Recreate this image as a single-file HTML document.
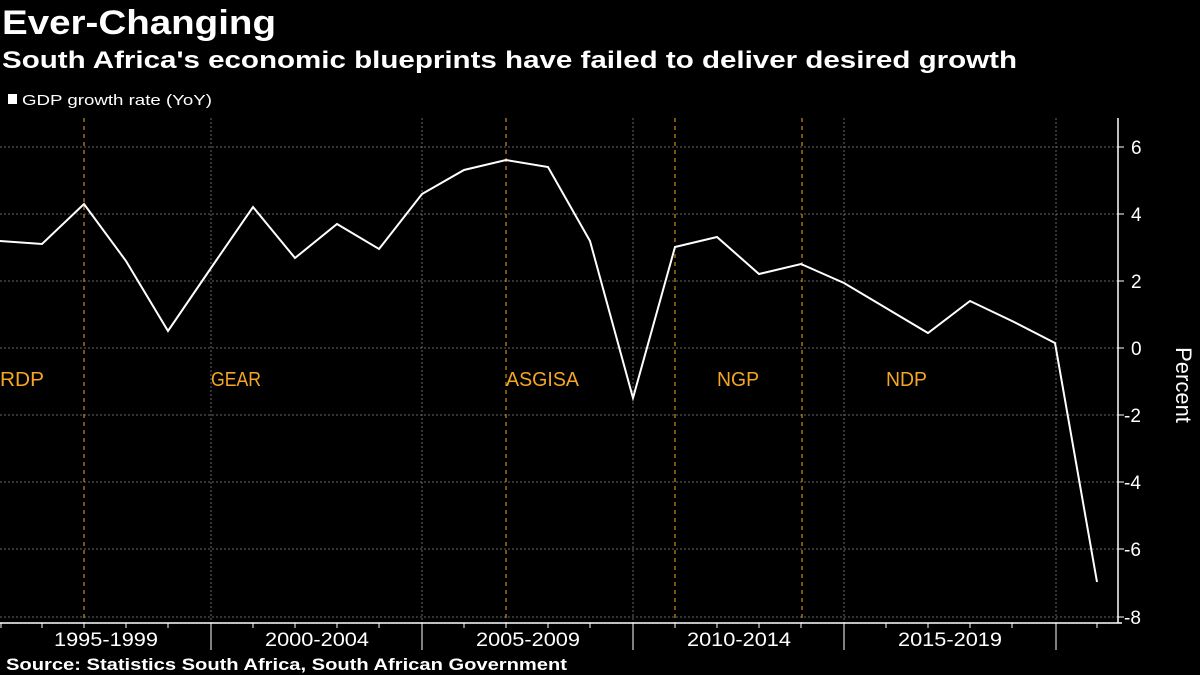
<!DOCTYPE html>
<html><head><meta charset="utf-8"><style>
html,body{margin:0;padding:0;background:#000;}
svg{display:block;font-family:"Liberation Sans",sans-serif;}
</style></head><body>
<svg width="1200" height="675" viewBox="0 0 1200 675">
<rect width="1200" height="675" fill="#000"/>
<text x="2" y="34" fill="#fff" font-size="34" font-weight="bold" textLength="274" lengthAdjust="spacingAndGlyphs">Ever-Changing</text>
<text x="2" y="68" fill="#fff" font-size="24" font-weight="bold" textLength="1015" lengthAdjust="spacingAndGlyphs">South Africa's economic blueprints have failed to deliver desired growth</text>
<rect x="8" y="94" width="9" height="10" fill="#fff"/>
<text x="22" y="105" fill="#fff" font-size="15" textLength="190" lengthAdjust="spacingAndGlyphs">GDP growth rate (YoY)</text>
<g stroke="#666" stroke-dasharray="2,2" stroke-width="1">
<line x1="0" y1="147" x2="1118" y2="147"/><line x1="0" y1="214" x2="1118" y2="214"/>
<line x1="0" y1="281" x2="1118" y2="281"/><line x1="0" y1="348" x2="1118" y2="348"/>
<line x1="0" y1="415" x2="1118" y2="415"/><line x1="0" y1="482" x2="1118" y2="482"/>
<line x1="0" y1="549" x2="1118" y2="549"/><line x1="0" y1="617" x2="1118" y2="617"/>
<line x1="211" y1="118" x2="211" y2="623"/><line x1="422" y1="118" x2="422" y2="623"/>
<line x1="633" y1="118" x2="633" y2="623"/><line x1="844" y1="118" x2="844" y2="623"/>
<line x1="1056" y1="118" x2="1056" y2="623"/>
</g>
<g stroke="#f5a623" stroke-dasharray="4,4" stroke-width="1">
<line x1="84" y1="118" x2="84" y2="623"/><line x1="506" y1="118" x2="506" y2="623"/>
<line x1="675" y1="118" x2="675" y2="623"/><line x1="802" y1="118" x2="802" y2="623"/>
</g>
<g fill="#f5a623" font-size="20">
<text x="0" y="386" textLength="44" lengthAdjust="spacingAndGlyphs">RDP</text>
<text x="211" y="386" textLength="50" lengthAdjust="spacingAndGlyphs">GEAR</text>
<text x="506" y="386" textLength="73" lengthAdjust="spacingAndGlyphs">ASGISA</text>
<text x="717" y="386" textLength="42" lengthAdjust="spacingAndGlyphs">NGP</text>
<text x="886" y="386" textLength="41" lengthAdjust="spacingAndGlyphs">NDP</text>
</g>
<line x1="0" y1="623" x2="1122" y2="623" stroke="#fff" stroke-width="1.5"/>
<line x1="1118" y1="118" x2="1118" y2="623" stroke="#fff" stroke-width="1.5"/>
<g stroke="#fff" stroke-width="1">
<line x1="1118" y1="147" x2="1124" y2="147"/><line x1="1118" y1="214" x2="1124" y2="214"/>
<line x1="1118" y1="281" x2="1124" y2="281"/><line x1="1118" y1="348" x2="1124" y2="348"/>
<line x1="1118" y1="415" x2="1124" y2="415"/><line x1="1118" y1="482" x2="1124" y2="482"/>
<line x1="1118" y1="549" x2="1124" y2="549"/><line x1="1118" y1="617" x2="1124" y2="617"/>
<line x1="211" y1="623" x2="211" y2="650"/><line x1="422" y1="623" x2="422" y2="650"/>
<line x1="633" y1="623" x2="633" y2="650"/><line x1="844" y1="623" x2="844" y2="650"/>
<line x1="1056" y1="623" x2="1056" y2="650"/>
<line x1="1" y1="623" x2="1" y2="628"/><line x1="42" y1="623" x2="42" y2="628"/><line x1="84" y1="623" x2="84" y2="628"/><line x1="126" y1="623" x2="126" y2="628"/><line x1="168" y1="623" x2="168" y2="628"/>
<line x1="253" y1="623" x2="253" y2="628"/><line x1="295" y1="623" x2="295" y2="628"/><line x1="337" y1="623" x2="337" y2="628"/><line x1="379" y1="623" x2="379" y2="628"/>
<line x1="464" y1="623" x2="464" y2="628"/><line x1="506" y1="623" x2="506" y2="628"/><line x1="548" y1="623" x2="548" y2="628"/><line x1="590" y1="623" x2="590" y2="628"/>
<line x1="675" y1="623" x2="675" y2="628"/><line x1="717" y1="623" x2="717" y2="628"/><line x1="759" y1="623" x2="759" y2="628"/><line x1="801" y1="623" x2="801" y2="628"/>
<line x1="886" y1="623" x2="886" y2="628"/><line x1="928" y1="623" x2="928" y2="628"/><line x1="970" y1="623" x2="970" y2="628"/><line x1="1012" y1="623" x2="1012" y2="628"/>
<line x1="1097" y1="623" x2="1097" y2="628"/>
</g>
<g fill="#fff" font-size="19">
<text x="1131" y="154">6</text><text x="1131" y="221">4</text><text x="1131" y="288">2</text>
<text x="1131" y="355">0</text><text x="1124" y="422">-2</text><text x="1124" y="489">-4</text>
<text x="1124" y="556">-6</text><text x="1124" y="624">-8</text>
</g>
<text transform="translate(1176,385) rotate(90)" fill="#fff" font-size="22" text-anchor="middle">Percent</text>
<g fill="#fff" font-size="19" text-anchor="middle">
<text x="106" y="646" textLength="104" lengthAdjust="spacingAndGlyphs">1995-1999</text>
<text x="317" y="646" textLength="104" lengthAdjust="spacingAndGlyphs">2000-2004</text>
<text x="528" y="646" textLength="104" lengthAdjust="spacingAndGlyphs">2005-2009</text>
<text x="739" y="646" textLength="104" lengthAdjust="spacingAndGlyphs">2010-2014</text>
<text x="950" y="646" textLength="104" lengthAdjust="spacingAndGlyphs">2015-2019</text>
</g>
<polyline fill="none" stroke="#fff" stroke-width="2" points="0,241 42,244 84,204 126,261 168,331 211,268 253,207 295,258 337,224 379,249 422,194 464,170 506,160 548,167 590,241 633,398 675,247 717,237 759,274 801,264 844,283 886,308 928,333 970,301 1012,321 1055,343 1097,582"/>
<text x="6" y="670" fill="#fff" font-size="17" font-weight="bold" textLength="561" lengthAdjust="spacingAndGlyphs">Source: Statistics South Africa, South African Government</text>
</svg>
</body></html>
